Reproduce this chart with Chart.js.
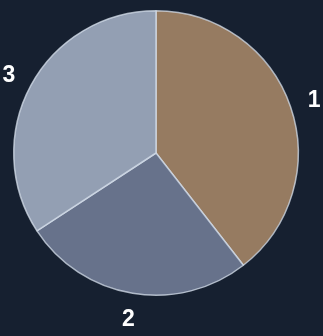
<!DOCTYPE html>
<html>
<head>
<meta charset="utf-8">
<script src="https://cdn.jsdelivr.net/npm/chart.js@4"></script>
<style>
html,body{margin:0;padding:0;background:#162030;}
canvas{display:block;}
</style>
</head>
<body>
<canvas id="c" width="323" height="336"></canvas>
<script>
const categories = ["1", "2", "3"];
const values = [15, 10, 13];
const sliceColors = ["#967b61", "#67728b", "#939fb3"];

const outsideLabels = {
  id: 'outsideLabels',
  afterDatasetsDraw(chart) {
    const ctx = chart.ctx;
    const meta = chart.getDatasetMeta(0);
    ctx.save();
    ctx.fillStyle = '#ffffff';
    ctx.font = 'bold 23px "Liberation Sans", Arial, sans-serif';
    ctx.textAlign = 'center';
    ctx.textBaseline = 'middle';
    meta.data.forEach((arc, i) => {
      const p = arc.getProps(['x', 'y', 'startAngle', 'endAngle', 'outerRadius'], true);
      const mid = (p.startAngle + p.endAngle) / 2;
      const r = p.outerRadius + 25;
      ctx.fillText(chart.data.labels[i], p.x + Math.cos(mid) * r, p.y + Math.sin(mid) * r + 2);
    });
    ctx.restore();
  }
};

new Chart(document.getElementById('c'), {
  type: 'pie',
  data: {
    labels: categories,
    datasets: [{
      data: values,
      backgroundColor: sliceColors,
      borderColor: 'rgba(215,224,236,0.75)',
      borderWidth: 1.5
    }]
  },
  options: {
    responsive: false,
    devicePixelRatio: 1,
    animation: false,
    layout: { padding: { left: 13, right: 24, top: 10, bottom: 40 } },
    plugins: {
      legend: { display: false },
      tooltip: { enabled: false }
    }
  },
  plugins: [outsideLabels]
});
</script>
</body>
</html>
